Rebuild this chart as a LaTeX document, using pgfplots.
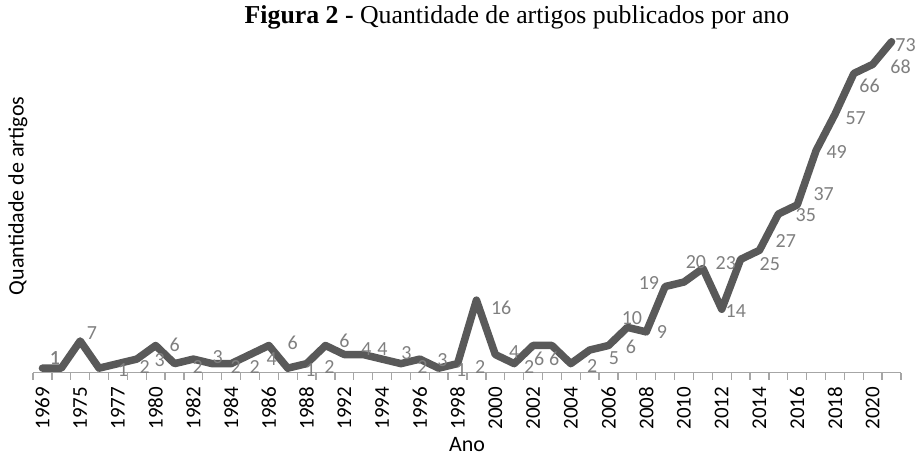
\documentclass[border=0pt]{standalone}
\usepackage{pgfplots}
\usepackage{pgfplotstable}
\pgfplotsset{compat=1.18}
\usepackage{fontspec}
\setmainfont{Carlito}
\newfontfamily\timesfont{Liberation Serif}
\definecolor{linegray}{HTML}{595959}
\definecolor{labgray}{HTML}{7F7F7F}
\definecolor{axgray}{HTML}{A6A6A6}

\pgfplotstableread{
i v dx dy
0 1 12.5 10.2
1 1 -6.4 10.2
2 7 11.7 8.0
3 1 23.8 -1.8
4 2 26.9 -3.4
5 3 23.0 -0.9
6 6 19.1 0.5
7 2 23.2 -3.4
8 3 24.3 2.1
9 2 23.4 -3.4
10 2 23.5 -3.4
11 4 21.6 -4.4
12 6 23.7 2.5
13 1 22.8 -1.8
14 2 22.9 -3.4
15 6 19.0 4.5
16 4 22.1 5.6
17 4 19.2 5.6
18 3 24.3 6.1
19 2 21.4 -3.4
20 3 22.5 -0.9
21 1 22.6 -1.8
22 2 22.7 -3.4
23 16 24.8 -7.8
24 4 18.9 2.6
25 2 15.0 -3.4
26 6 6.1 -13.5
27 6 2.2 -13.5
28 2 21.3 -2.4
29 5 24.4 -7.9
30 6 22.5 -1.5
31 10 4.6 9.4
32 9 15.7 -0.1
33 19 -16.2 3.6
34 20 11.9 20.1
35 23 23.0 5.5
36 14 14.1 -1.7
37 25 29.2 -4.5
38 27 26.3 9.4
39 35 27.4 -0.8
40 37 26.5 11.1
41 49 20.6 -1.3
42 57 20.7 -3.5
43 66 15.8 -12.3
44 68 27.9 -2.3
45 73 14.0 -3.0
}\datatable

\begin{document}
\begin{tikzpicture}
\useasboundingbox (0,0) rectangle (918pt,456pt);
\begin{axis}[
  at={(33pt,83.3pt)}, anchor=south west,
  scale only axis, width=868pt, height=331pt,
  xmin=-0.5, xmax=45.5, ymin=0, ymax=73,
  clip=false,
  axis x line*=bottom, axis y line*=left,
  x axis line style={-, draw=axgray, line width=1.3pt},
  y axis line style={draw=none},
  ytick=\empty,
  xtick={0,2,...,44},
  xticklabels={1969,1975,1977,1980,1982,1984,1986,1988,1992,1994,1996,1998,2000,2002,2004,2006,2008,2010,2012,2014,2016,2018,2020},
  minor xtick={-0.5,0.5,...,45.5},
  tick align=outside,
  major tick length=0pt,
  minor tick length=7pt,
  minor tick style={draw=axgray, line width=1.3pt},
  xticklabel style={rotate=90, anchor=east, inner sep=0pt, font=\fontsize{21}{24}\selectfont},
  xticklabel shift=14pt,
  /pgf/number format/assume math mode=true,
  title={\timesfont\textbf{Figura 2 -} Quantidade de artigos publicados por ano},
  title style={at={(axis description cs:0.5576,1)}, anchor=center, yshift=18.7pt, inner sep=1pt, font=\fontsize{25.8}{28}\selectfont},
  xlabel={Ano},
  xlabel style={at={(axis description cs:0.5,-0.217)}, anchor=center, inner sep=1pt, font=\fontsize{22}{26}\selectfont},
  ylabel={Quantidade de artigos},
  ylabel style={at={(axis description cs:-0.0173,0.534)}, anchor=center, inner sep=1pt, font=\fontsize{22}{26}\selectfont},
  nodes near coords,
  point meta=explicit,
  visualization depends on={\thisrow{dx} \as \mydx},
  visualization depends on={\thisrow{dy} \as \mydy},
  every node near coord/.append style={anchor=center, inner sep=0pt, xshift=\mydx pt, yshift=\mydy pt, text=labgray, font=\fontsize{20}{24}\selectfont},
]
\addplot[color=linegray, line width=7.5pt, line join=round, line cap=round, mark=none] table[x=i, y=v, meta=v] {\datatable};
\end{axis}
\end{tikzpicture}
\end{document}
